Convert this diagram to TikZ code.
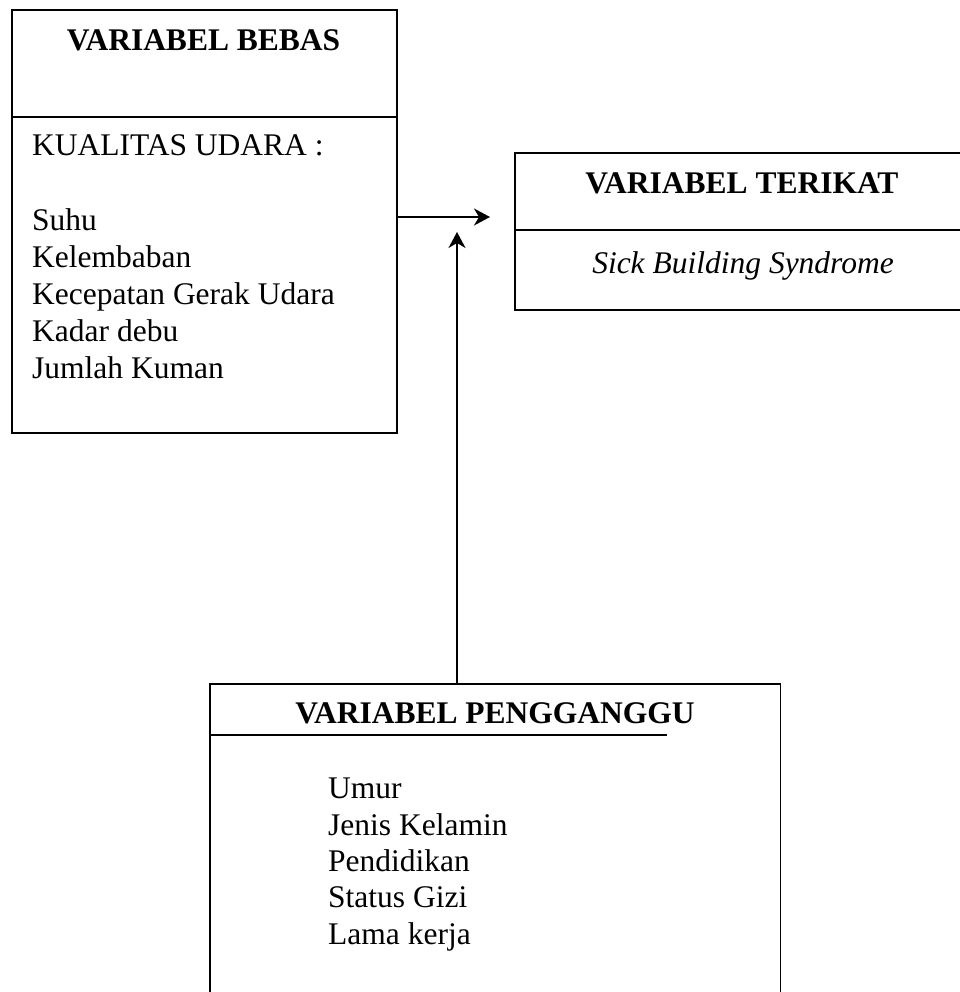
\documentclass[tikz,border=0pt]{standalone}
\usepackage{fontspec}
\setmainfont{Liberation Serif}
\usetikzlibrary{arrows.meta}
\tikzset{
  frame/.style={draw=black, line width=1.8pt, rectangle, inner sep=0pt, anchor=north west},
  rule/.style={draw=black, line width=1.8pt},
  arr/.style={draw=black, line width=1.8pt, -{Stealth[length=16pt,width=17pt,inset=5pt]}},
  txt/.style={inner sep=0pt, anchor=base west, font=\fontsize{31.5pt}{37pt}\selectfont},
  ttl/.style={inner sep=0pt, anchor=base, font=\fontsize{31.5pt}{37pt}\selectfont\bfseries},
}
\begin{document}
\begin{tikzpicture}[x=1pt,y=1pt]
\useasboundingbox[fill=white] (0,0) rectangle (959,-992);
% Box 1: VARIABEL BEBAS
\node[frame, minimum width=385pt, minimum height=423pt] (bebas) at (11,-9) {};
\coordinate (bdivl) at (11,-117);
\draw[rule] (bdivl) -- (bdivl -| bebas.east);
\node[ttl] (bebasT) at (203.5,-51) {VARIABEL BEBAS};
\node[txt] (kual) at (32,-156) {KUALITAS UDARA :};
\node[txt] (suhu) at (32,-230) {Suhu};
\node[txt] (lembab) at (32,-267) {Kelembaban};
\node[txt] (cepat) at (32,-304) {Kecepatan Gerak Udara};
\node[txt] (debu) at (32,-341) {Kadar debu};
\node[txt] (kuman) at (32,-378) {Jumlah Kuman};
% Box 2: VARIABEL TERIKAT
\node[frame, minimum width=460pt, minimum height=157pt] (terikat) at (514,-152) {};
\coordinate (tdivl) at (514,-230);
\draw[rule] (tdivl) -- (tdivl -| terikat.east);
\node[ttl] (terikatT) at (742,-194) {VARIABEL TERIKAT};
\node[txt, anchor=base] (sbs) at (743,-273) {\itshape Sick Building Syndrome};
% Box 3: VARIABEL PENGGANGGU (open at the bottom)
\node[inner sep=0pt, anchor=north west, minimum width=570pt, minimum height=330pt] (ganggu) at (210,-684) {};
\draw[rule] (ganggu.south west) -- (ganggu.north west) -- (ganggu.north east) -- (ganggu.south east);
\coordinate (gdivl) at (210,-735);
\coordinate (gdivr) at (667,-735);
\draw[rule] (gdivl) -- (gdivr);
\node[ttl] (gangguT) at (495,-723) {VARIABEL PENGGANGGU};
\node[txt] (umur) at (328,-798) {Umur};
\node[txt] (jenis) at (328,-835) {Jenis Kelamin};
\node[txt] (didik) at (328,-871) {Pendidikan};
\node[txt] (gizi) at (328,-907) {Status Gizi};
\node[txt] (lama) at (328,-944) {Lama kerja};
% Connectors
\coordinate (hend) at (490,-217);
\coordinate (vend) at (457,-232);
\draw[arr] (bebas.east |- hend) -- (hend);
\draw[arr] (ganggu.north -| vend) -- (vend);
\end{tikzpicture}
\end{document}
